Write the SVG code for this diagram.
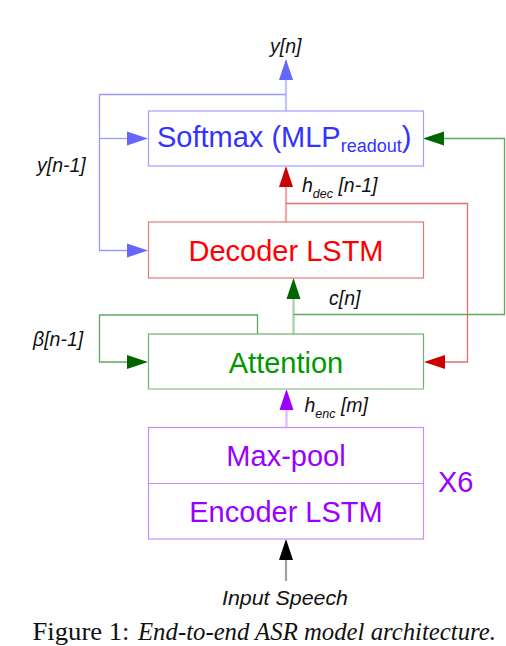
<svg xmlns="http://www.w3.org/2000/svg" width="506" height="646" viewBox="0 0 506 646">
<style>
.box{fill:#ffffff;stroke-width:1.2}
.big{font-family:"Liberation Sans",Arial,sans-serif;font-size:29px;text-anchor:middle}
.lbl{font-family:"Liberation Sans",Arial,sans-serif;font-size:19.5px;font-style:italic;fill:#111}
.sub{font-size:12.5px}
.cap{font-family:"Liberation Serif","Times New Roman",serif;font-size:25px;fill:#111}
.ln{fill:none;stroke-width:1.3}
.stem{fill:none;stroke-width:2.2}
</style>
<defs>
<marker id="aB" markerUnits="userSpaceOnUse" markerWidth="21" markerHeight="14" refX="0" refY="7" orient="auto" overflow="visible"><path d="M0,0 L21,7 L0,14 Z" fill="#6666ff"/></marker>
<marker id="aR" markerUnits="userSpaceOnUse" markerWidth="21" markerHeight="14" refX="0" refY="7" orient="auto" overflow="visible"><path d="M0,0 L21,7 L0,14 Z" fill="#cc0000"/></marker>
<marker id="aG" markerUnits="userSpaceOnUse" markerWidth="21" markerHeight="14" refX="0" refY="7" orient="auto" overflow="visible"><path d="M0,0 L21,7 L0,14 Z" fill="#006600"/></marker>
<marker id="aP" markerUnits="userSpaceOnUse" markerWidth="21" markerHeight="14" refX="0" refY="7" orient="auto" overflow="visible"><path d="M0,0 L21,7 L0,14 Z" fill="#9900ff"/></marker>
<marker id="aK" markerUnits="userSpaceOnUse" markerWidth="21" markerHeight="14" refX="0" refY="7" orient="auto" overflow="visible"><path d="M0,0 L21,7 L0,14 Z" fill="#000000"/></marker>
</defs>
<rect width="506" height="646" fill="#ffffff"/>
<g id="connectors">
  <path class="stem" d="M286,111 V80" stroke="#c4c4ff" marker-end="url(#aB)"/>
  <path class="ln" d="M286,94.5 H99.5 V250.5 H127" stroke="#9999ff" marker-end="url(#aB)"/>
  <path class="ln" d="M99.5,138.5 H127" stroke="#9999ff" marker-end="url(#aB)"/>
  <path class="stem" d="M286,222 V187" stroke="#f0a8a8" marker-end="url(#aR)"/>
  <path class="ln" d="M286,203.5 H467.5 V362 H445" stroke="#e07070" marker-end="url(#aR)"/>
  <path class="stem" d="M293.5,334 V299" stroke="#a8d0a8" marker-end="url(#aG)"/>
  <path class="ln" d="M293.5,314.5 H504.5 V138.5 H444" stroke="#60a860" marker-end="url(#aG)"/>
  <path class="ln" d="M257.5,334 V315 H99.5 V362 H127" stroke="#60a860" marker-end="url(#aG)"/>
  <path class="stem" d="M286.5,427 V410" stroke="#e2b8ff" marker-end="url(#aP)"/>
  <path class="stem" d="M286,581 V560" stroke="#a0a0a0" marker-end="url(#aK)"/>
</g>
<g id="softmax">
  <rect class="box" x="148.5" y="111" width="275" height="55" stroke="#9f9fff"/>
  <text class="big" x="157" y="147.3" fill="#3333ff" style="text-anchor:start">Softmax (MLP<tspan font-size="18" dy="4.5">readout</tspan><tspan dy="-4.5">)</tspan></text>
</g>
<g id="decoder">
  <rect class="box" x="148.5" y="222" width="275" height="56" stroke="#e07a7a"/>
  <text class="big" x="286" y="261" fill="#ff0000">Decoder LSTM</text>
</g>
<g id="attention">
  <rect class="box" x="148.5" y="334" width="275" height="55" stroke="#70b070"/>
  <line x1="148.5" y1="389" x2="423.5" y2="389" stroke="#b8dab8" stroke-width="2"/>
  <text class="big" x="286" y="372.7" fill="#009900">Attention</text>
</g>
<g id="encoder">
  <rect class="box" x="148.5" y="427.5" width="275" height="111.5" stroke="#c88cff"/>
  <line x1="148.5" y1="483.5" x2="423.5" y2="483.5" stroke="#c88cff" stroke-width="1.2"/>
  <text class="big" x="286" y="466" fill="#9900ff">Max-pool</text>
  <text class="big" x="286" y="521.7" fill="#9900ff">Encoder LSTM</text>
  <text class="big" x="438" y="492" fill="#9900ff" style="text-anchor:start">X6</text>
</g>
<g id="labels">
  <text class="lbl" x="270" y="52.5">y[n]</text>
  <text class="lbl" x="37" y="172">y[n-1]</text>
  <text class="lbl" x="33" y="346">β[n-1]</text>
  <text class="lbl" x="302" y="191.7">h<tspan class="sub" dy="6.6">dec</tspan><tspan dy="-6.6"> [n-1]</tspan></text>
  <text class="lbl" x="329" y="305">c[n]</text>
  <text class="lbl" x="304.5" y="411.7">h<tspan class="sub" dy="6.3">enc</tspan><tspan dy="-6.3"> [m]</tspan></text>
  <text class="lbl" x="222" y="605" font-size="20.5" textLength="126" lengthAdjust="spacingAndGlyphs">Input Speech</text>
</g>
<g id="caption">
  <text class="cap" x="32.5" y="640" textLength="97" lengthAdjust="spacingAndGlyphs">Figure 1:</text>
  <text class="cap" x="138" y="640" font-style="italic" textLength="358" lengthAdjust="spacingAndGlyphs">End-to-end ASR model architecture.</text>
</g>
</svg>
